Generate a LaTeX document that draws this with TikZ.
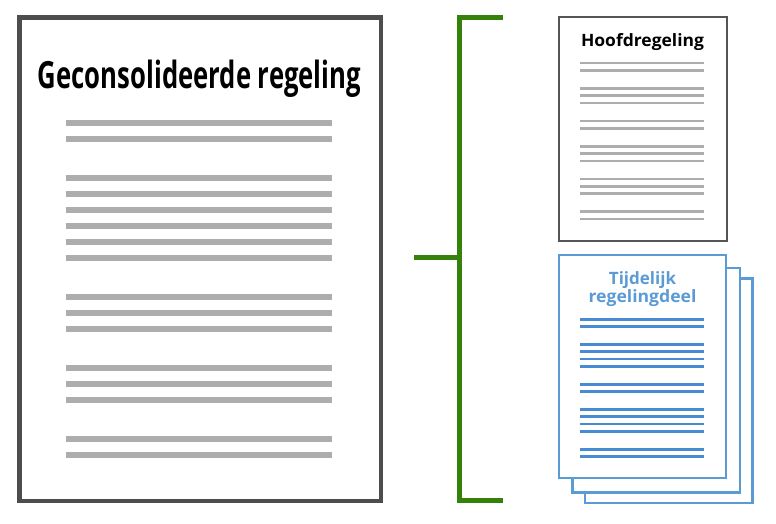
\documentclass[tikz,border=0pt]{standalone}
\usepackage{fontspec}
\setmainfont{Open Sans}
\usepackage{graphicx}
\definecolor{frame}{RGB}{77,77,77}
\definecolor{hframe}{RGB}{85,85,85}
\definecolor{txtline}{RGB}{173,173,173}
\definecolor{bluefr}{RGB}{91,155,213}
\definecolor{blueln}{RGB}{72,138,212}
\definecolor{brgreen}{RGB}{52,130,10}
\tikzset{
  bigline/.style={line width=6pt, draw=txtline},
  smallline/.style={line width=2.8pt, draw=txtline},
  blueline/.style={line width=2.8pt, draw=blueln},
  sheet/.style={draw=bluefr, line width=2.5pt, fill=white},
  bracket/.style={draw=brgreen, line width=5pt},
}
\begin{document}
\begin{tikzpicture}[x=1pt,y=-1pt]
\useasboundingbox (0,0) rectangle (776,523);
% big document
\draw[frame, line width=4.5pt, fill=white] (19.5,17.5) rectangle (381,501);
\node[anchor=base, inner sep=0pt] (gtitle) at (199.5,88)
  {\resizebox{323pt}{\height}{\fontsize{37.5}{40}\selectfont\bfseries Geconsolideerde regeling}};
\foreach \y in {122.5,138.5,178,194,210,226,242,258,296.5,312.5,328.5,367.5,383.5,399.5,438.5,454.5}
  \draw[bigline] (66,\y) -- (332,\y);
% hoofdregeling
\draw[hframe, line width=2pt, fill=white] (558.5,16.5) rectangle (727,240.5);
\node[anchor=base, inner sep=0pt] (htitle) at (642.5,46.5)
  {\resizebox{123pt}{\height}{\fontsize{17}{18}\selectfont\bfseries Hoofdregeling}};
\foreach \y in {63,70.3,88.3,95.7,103,121,128.3,146.3,153.7,161,179,186.3,193.7,211.7,219}
  \draw[smallline] (580,\y) -- (704,\y);
% tijdelijk regelingdeel sheets
\draw[sheet] (585,278.5) rectangle (752.5,503);
\draw[sheet] (572.5,268) rectangle (740,492.5);
\draw[sheet] (559,255) rectangle (726,478);
\node[anchor=base, inner sep=0pt, text=bluefr] (t1) at (642.5,284.3)
  {\fontsize{17}{18}\selectfont\bfseries Tijdelijk};
\node[anchor=base, inner sep=0pt, text=bluefr] (t2) at (642.5,302.7)
  {\resizebox{108pt}{\height}{\fontsize{17}{18}\selectfont\bfseries regelingdeel}};
\foreach \y in {319.3,326.7,344.3,351.7,359,366.3,384.3,391.7,409.3,416.7,424,431.3,449.3,456.7}
  \draw[blueline] (580,\y) -- (704,\y);
% bracket
\coordinate (btop) at (503,17.5);
\coordinate (bcorner1) at (459.5,17.5);
\coordinate (bcorner2) at (459.5,500);
\coordinate (bbot) at (503,500);
\coordinate (bmid) at (459.5,257);
\coordinate (bstem) at (414,257);
\draw[bracket] (btop) -- (bcorner1) -- (bcorner2) -- (bbot);
\draw[bracket] (bstem) -- (bmid);
\end{tikzpicture}
\end{document}
